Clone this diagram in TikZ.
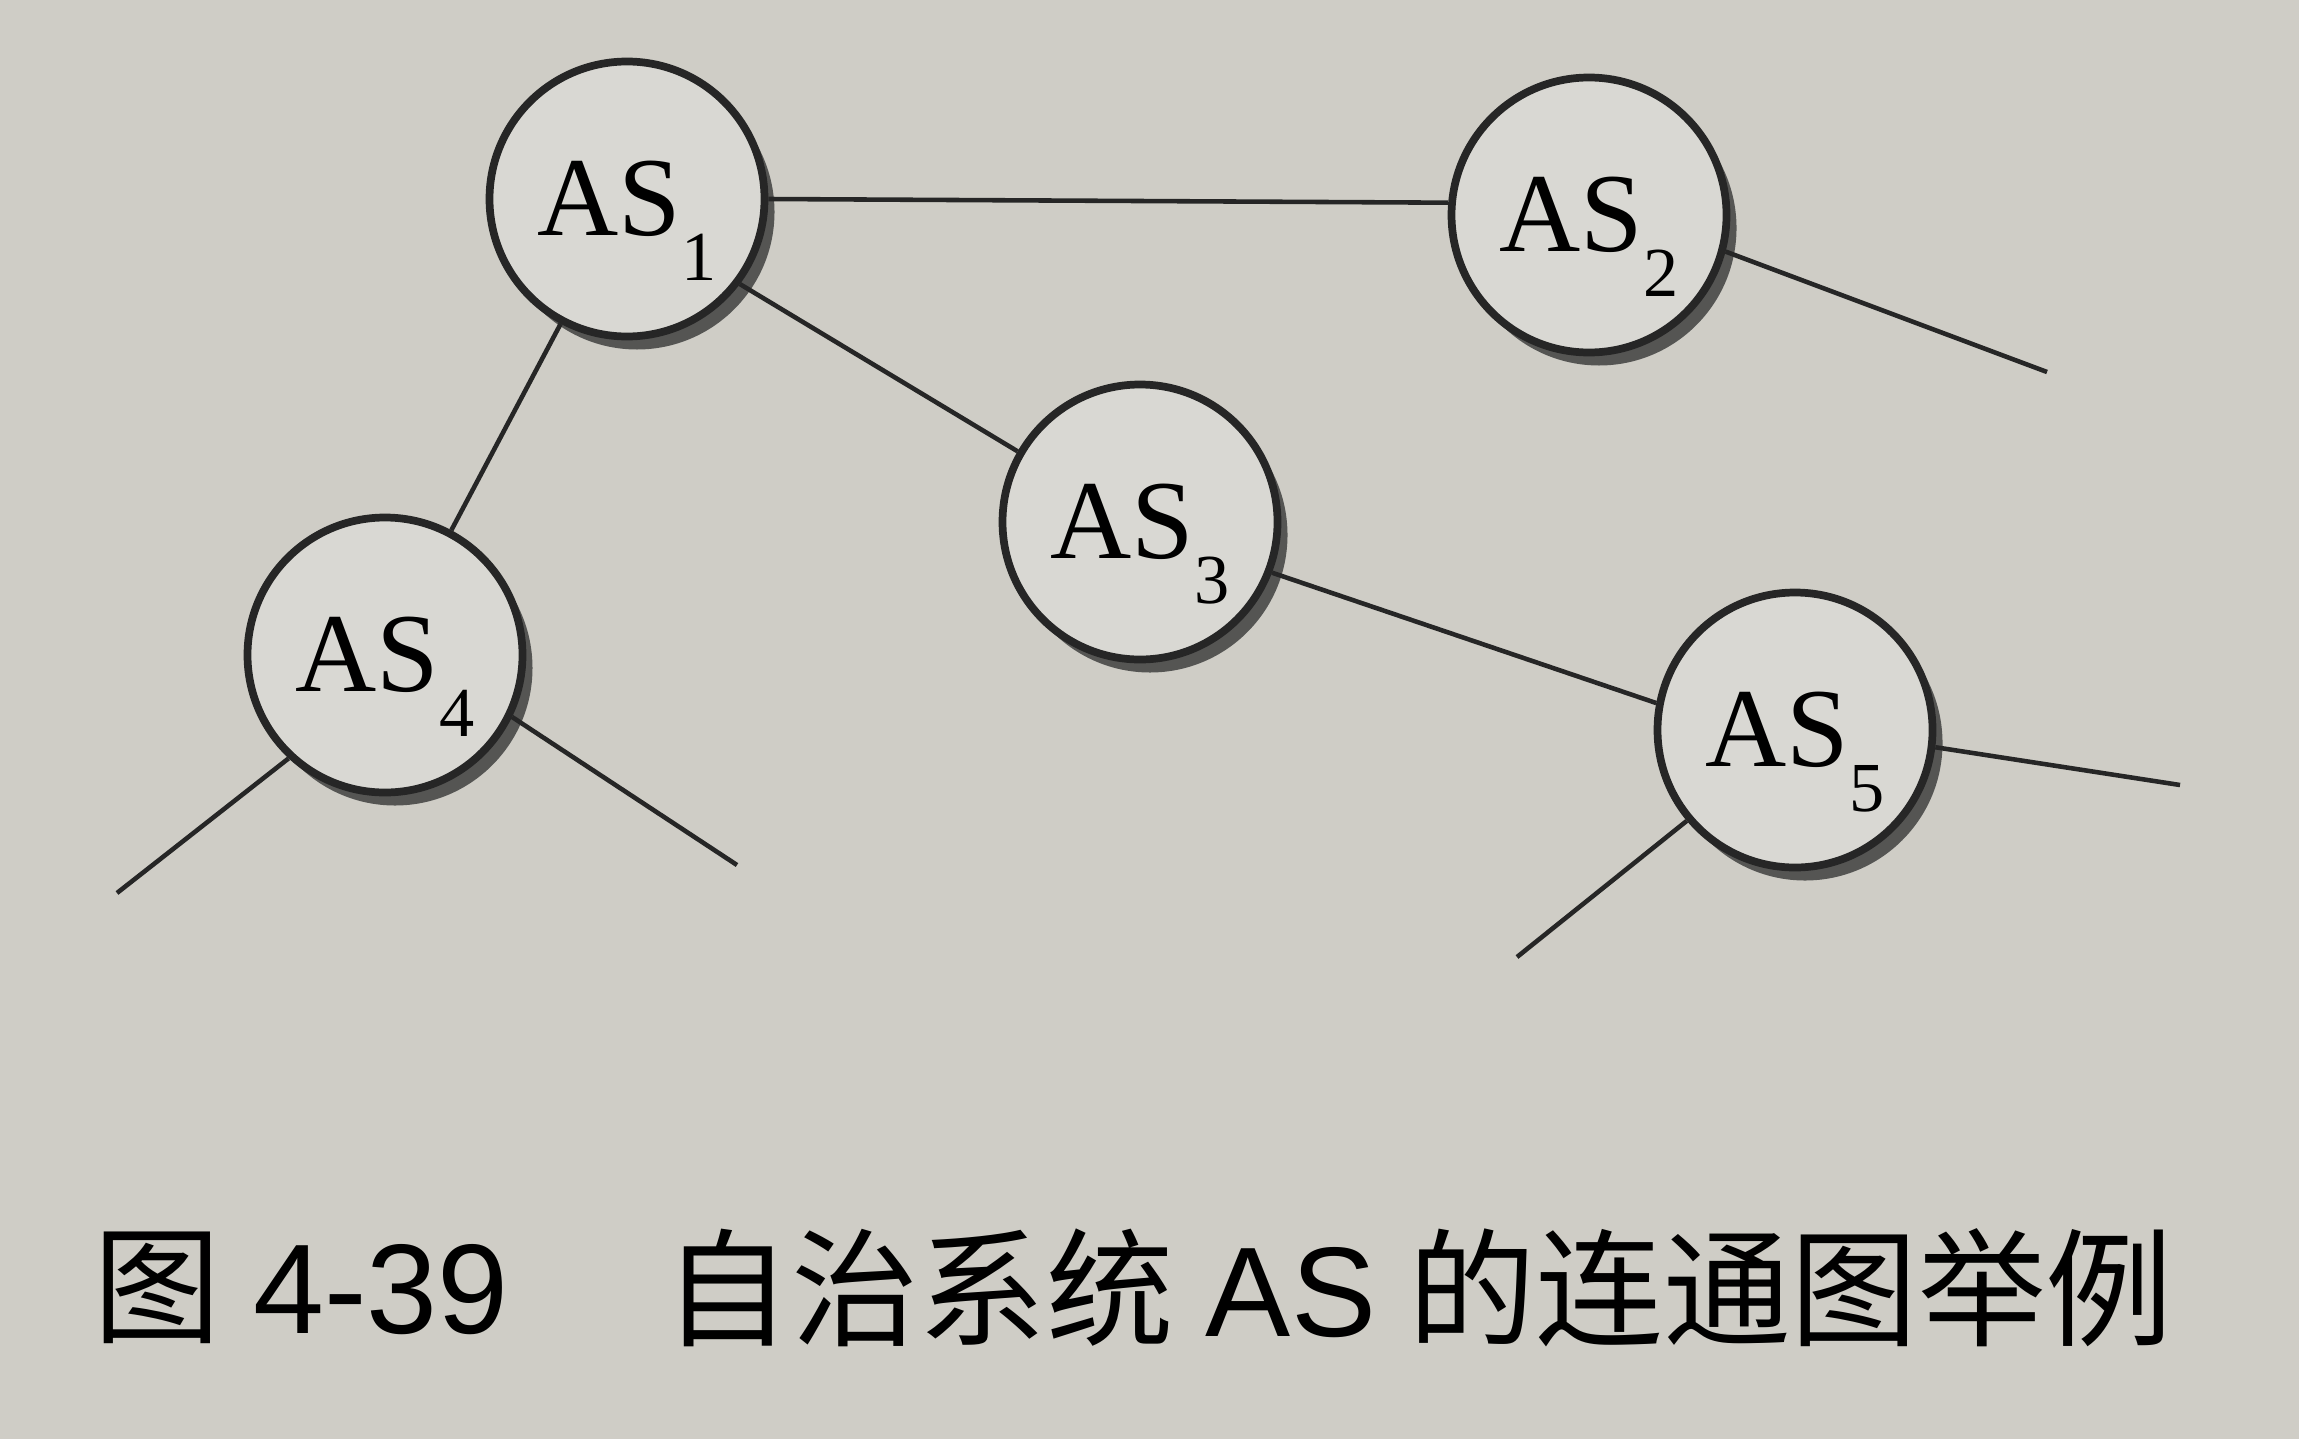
\documentclass[tikz,border=0pt]{standalone}
\usepackage{fontspec}
\setmainfont{Liberation Serif}
\newfontfamily\cjkfont{Noto Sans CJK SC}
\newfontfamily\capfont{Liberation Sans}
\usetikzlibrary{shadows}
\definecolor{paper}{RGB}{207,205,198}
\definecolor{dotfill}{RGB}{217,216,211}
\newcommand{\asname}[1]{AS\raisebox{-0.4em}[0pt][0pt]{\fontsize{20}{20}\selectfont #1}}
\tikzset{asnode/.style={circle, draw=black!85, line width=2.2pt, fill=dotfill, minimum size=2.75cm, inner sep=0pt, font=\fontsize{32}{36}\selectfont, drop shadow={shadow xshift=0.1cm, shadow yshift=-0.13cm, fill=black!75, opacity=0.85}},
link/.style={line width=1.3pt, black!85},
caption/.style={anchor=west, inner sep=0pt, font=\fontsize{36.3}{40}\selectfont}}

\begin{document}
\begin{tikzpicture}
		\useasboundingbox (0,0) rectangle (22.99,14.39);
		\fill[paper] (0,0) rectangle (22.99,14.39);
		% autonomous systems
		\node[asnode] (as1) at (6.27,12.40) {\asname{1}};
		\node[asnode] (as2) at (15.89,12.24) {\asname{2}};
		\node[asnode] (as3) at (11.40,9.17) {\asname{3}};
		\node[asnode] (as4) at (3.85,7.84) {\asname{4}};
		\node[asnode] (as5) at (17.95,7.09) {\asname{5}};
		% free ends
		\coordinate (out2) at (20.47,10.67);
		\coordinate (out4a) at (1.17,5.46);
		\coordinate (out4b) at (7.37,5.74);
		\coordinate (out5a) at (21.80,6.54);
		\coordinate (out5b) at (15.17,4.82);
		% links
		\draw[link] (as1.0) -- (as2.175);
		\draw[link] (as1.-37) -- (as3.150);
		\draw[link] (as1.242) -- (as4.62);
		\draw[link] (as3.-21) -- (as5.169);
		\draw[link] (as2.-15) -- (out2);
		\draw[link] (as4.227) -- (out4a);
		\draw[link] (as4.-26) -- (out4b);
		\draw[link] (as5.-7) -- (out5a);
		\draw[link] (as5.220) -- (out5b);
		% caption
		\node[caption] (fignum) at (0.93,1.51) {{\cjkfont 图} {\capfont 4-39}};
		\node[caption] (figtitle) at (6.63,1.51) {{\cjkfont 自治系统} {\capfont AS} {\cjkfont 的连通图举例}};
\end{tikzpicture}
\end{document}
